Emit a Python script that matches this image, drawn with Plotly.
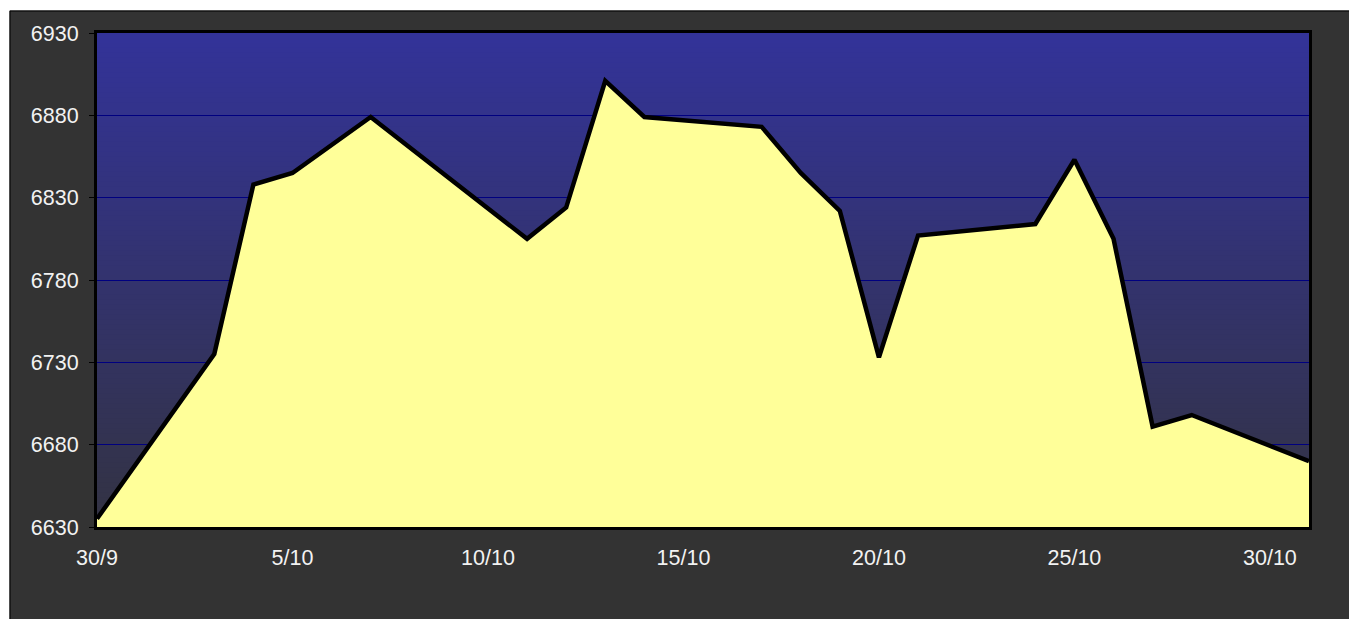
import plotly.graph_objects as go

# ---- data ----
dates = ["2008-09-30", "2008-10-03", "2008-10-04", "2008-10-05", "2008-10-07",
         "2008-10-11", "2008-10-12", "2008-10-13", "2008-10-14", "2008-10-17",
         "2008-10-18", "2008-10-19", "2008-10-20", "2008-10-21", "2008-10-24",
         "2008-10-25", "2008-10-26", "2008-10-27", "2008-10-28", "2008-10-31"]
values = [6635, 6735, 6838, 6845, 6879,
          6805, 6824, 6901, 6879, 6873,
          6845, 6822, 6733, 6807, 6814,
          6853, 6805, 6691, 6698, 6670]
y_ticks = [6630, 6680, 6730, 6780, 6830, 6880, 6930]

W, H = 1349, 619
ML, MR, MT, MB = 97, 40, 33, 92
PW, PH = W - ML - MR, H - MT - MB

def px_to_paper_x(px):
    return (px - ML) / PW

def px_to_paper_y(py):
    return (H - MB - py) / PH

fig = go.Figure()
fig.add_trace(go.Scatter(
    x=dates, y=values, mode="lines", fill="tozeroy",
    fillcolor="#FFFF99", line=dict(color="black", width=4.5),
    hoverinfo="x+y", showlegend=False,
))

shapes = []
# white strips outside the dark chart box (top and left)
shapes.append(dict(type="rect", xref="paper", yref="paper", layer="below",
                   x0=px_to_paper_x(-20), x1=px_to_paper_x(1400),
                   y0=px_to_paper_y(10.5), y1=px_to_paper_y(-20),
                   fillcolor="white", line=dict(width=0)))
shapes.append(dict(type="rect", xref="paper", yref="paper", layer="below",
                   x0=px_to_paper_x(-20), x1=px_to_paper_x(9.5),
                   y0=px_to_paper_y(700), y1=px_to_paper_y(-20),
                   fillcolor="white", line=dict(width=0)))
# thin black border of the dark box
shapes.append(dict(type="line", xref="paper", yref="paper", layer="below",
                   x0=px_to_paper_x(10), x1=px_to_paper_x(1400),
                   y0=px_to_paper_y(11), y1=px_to_paper_y(11),
                   line=dict(color="black", width=1)))
shapes.append(dict(type="line", xref="paper", yref="paper", layer="below",
                   x0=px_to_paper_x(10), x1=px_to_paper_x(10),
                   y0=px_to_paper_y(700), y1=px_to_paper_y(11),
                   line=dict(color="black", width=1)))
# gradient plot background
N = 100
top = (51, 51, 153)
bot = (51, 51, 66)
for i in range(N):
    t = (i + 0.5) / N  # 0 at bottom, 1 at top
    c = tuple(round(bot[k] + (top[k] - bot[k]) * t) for k in range(3))
    shapes.append(dict(type="rect", xref="paper", yref="paper", layer="below",
                       x0=0, x1=1, y0=i / N, y1=(i + 1) / N + 0.002,
                       fillcolor="rgb(%d,%d,%d)" % c, line=dict(width=0)))

font = dict(family="Liberation Sans, Arial, sans-serif", size=21.5, color="#f2f2f2")

fig.update_layout(
    width=W, height=H,
    margin=dict(l=ML, r=MR, t=MT, b=MB),
    paper_bgcolor="#333333",
    plot_bgcolor="rgba(0,0,0,0)",
    shapes=shapes,
    font=font,
    xaxis=dict(
        type="date", range=["2008-09-30", "2008-10-31"],
        tick0="2008-09-30", dtick=5 * 86400000, tickformat="%-d/%-m",
        showgrid=False, showline=True, linecolor="black", linewidth=3, mirror=True,
        ticks="", ticklabelstandoff=9, tickfont=font, zeroline=False,
    ),
    yaxis=dict(
        range=[6630, 6930], tickvals=y_ticks, ticktext=[str(v) for v in y_ticks],
        showgrid=True, gridcolor="#000080", gridwidth=1,
        showline=True, linecolor="black", linewidth=3, mirror=True,
        ticks="outside", ticklen=5, tickcolor="black", tickwidth=1,
        ticklabelstandoff=6, tickfont=font, zeroline=False,
    ),
)

fig.write_html(
    "out.html",
    config={"displayModeBar": False},
    post_script="document.body.style.margin='0';document.body.style.overflow='hidden';",
)
